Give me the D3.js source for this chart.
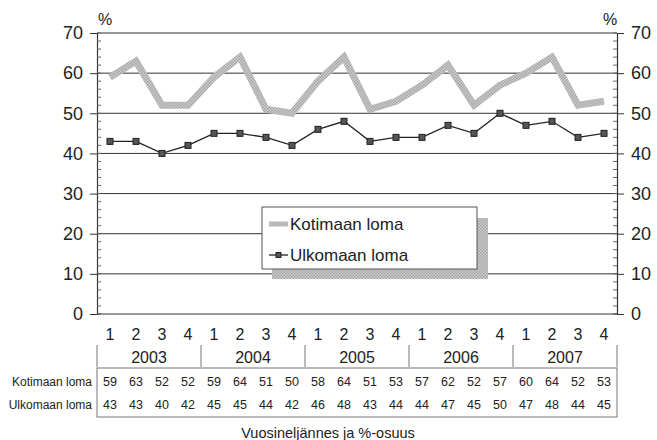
<!DOCTYPE html>
<html>
<head>
<meta charset="utf-8">
<script src="https://cdn.jsdelivr.net/npm/d3@7"></script>
<style>
  body { margin: 0; background: #fff; }
  svg { font-family: "Liberation Sans", Arial, sans-serif; }
</style>
</head>
<body>
<div id="chart"></div>
<script>
// data
var quarters = ["1", "2", "3", "4"];
var years = ["2003", "2004", "2005", "2006", "2007"];
var kotimaan = [59, 63, 52, 52, 59, 64, 51, 50, 58, 64, 51, 53, 57, 62, 52, 57, 60, 64, 52, 53];
var ulkomaan = [43, 43, 40, 42, 45, 45, 44, 42, 46, 48, 43, 44, 44, 47, 45, 50, 47, 48, 44, 45];
var seriesNames = ["Kotimaan loma", "Ulkomaan loma"];
var yTicks = [0, 10, 20, 30, 40, 50, 60, 70];

var width = 657, height = 440;
var plotL = 97, plotR = 617, plotT = 33, plotB = 314;

var svg = d3.select("#chart").append("svg")
    .attr("width", width)
    .attr("height", height);

// grey hatch used for the thick line and the legend shadow
var defs = svg.append("defs");
var pat = defs.append("pattern")
    .attr("id", "hatch")
    .attr("patternUnits", "userSpaceOnUse")
    .attr("width", 3).attr("height", 3);
pat.append("rect").attr("width", 3).attr("height", 3).attr("fill", "#cdcdcd");
pat.append("rect").attr("width", 1.5).attr("height", 1.5).attr("fill", "#a6a6a6");
pat.append("rect").attr("x", 1.5).attr("y", 1.5).attr("width", 1.5).attr("height", 1.5).attr("fill", "#a6a6a6");

var idx = d3.range(kotimaan.length);
var x = d3.scaleBand().domain(idx).range([plotL, plotR]);
var xc = function (i) { return x(i) + x.bandwidth() / 2; };
var y = d3.scaleLinear().domain([0, 70]).range([plotB, plotT]);

// gridlines
svg.append("g").selectAll("line")
    .data(yTicks.slice(1))
    .enter().append("line")
    .attr("x1", plotL).attr("x2", plotR)
    .attr("y1", function (d) { return y(d); })
    .attr("y2", function (d) { return y(d); })
    .attr("stroke", "#333").attr("stroke-width", 1);

// left and right axes, major ticks outside, minor ticks inside
var minor = d3.range(0, 71, 2);
var leftAxis = svg.append("g").attr("transform", "translate(" + plotL + ",0)")
    .call(d3.axisLeft(y).tickValues(yTicks).tickSize(7).tickPadding(7));
var rightAxis = svg.append("g").attr("transform", "translate(" + plotR + ",0)")
    .call(d3.axisRight(y).tickValues(yTicks).tickSize(7).tickPadding(7));
[leftAxis, rightAxis].forEach(function (a) {
    a.select(".domain").attr("stroke", "#333").attr("stroke-width", 1.2);
    a.selectAll(".tick line").attr("stroke", "#333");
    a.selectAll("text").attr("font-size", 18).attr("fill", "#222");
});
leftAxis.selectAll(".minor").data(minor).enter().append("line")
    .attr("x1", 0).attr("x2", 4)
    .attr("y1", function (d) { return y(d); }).attr("y2", function (d) { return y(d); })
    .attr("stroke", "#666");
rightAxis.selectAll(".minor").data(minor).enter().append("line")
    .attr("x1", 0).attr("x2", -4)
    .attr("y1", function (d) { return y(d); }).attr("y2", function (d) { return y(d); })
    .attr("stroke", "#666");

// bottom axis line
svg.append("line")
    .attr("x1", plotL).attr("x2", plotR)
    .attr("y1", plotB).attr("y2", plotB)
    .attr("stroke", "#333").attr("stroke-width", 1.2);

// % labels
svg.append("text").attr("x", 105).attr("y", 25).attr("text-anchor", "middle")
    .attr("font-size", 16).attr("fill", "#222").text("%");
svg.append("text").attr("x", 610).attr("y", 25).attr("text-anchor", "middle")
    .attr("font-size", 16).attr("fill", "#222").text("%");

// lines
var line = d3.line()
    .x(function (d, i) { return xc(i); })
    .y(function (d) { return y(d); });

svg.append("path")
    .datum(kotimaan)
    .attr("d", line)
    .attr("fill", "none")
    .attr("stroke", "url(#hatch)")
    .attr("stroke-width", 7)
    .attr("stroke-linejoin", "miter");

svg.append("path")
    .datum(ulkomaan)
    .attr("d", line)
    .attr("fill", "none")
    .attr("stroke", "#222")
    .attr("stroke-width", 1.3);

svg.append("g").selectAll("rect")
    .data(ulkomaan)
    .enter().append("rect")
    .attr("x", function (d, i) { return xc(i) - 3; })
    .attr("y", function (d) { return y(d) - 3; })
    .attr("width", 6).attr("height", 6)
    .attr("fill", "#555").attr("stroke", "#222").attr("stroke-width", 1);

// legend with shadow
var lg = svg.append("g");
lg.append("rect").attr("x", 272).attr("y", 218).attr("width", 216).attr("height", 61)
    .attr("fill", "url(#hatch)");
lg.append("rect").attr("x", 262).attr("y", 207).attr("width", 215).attr("height", 62)
    .attr("fill", "#fff").attr("stroke", "#555").attr("stroke-width", 1);
lg.append("line").attr("x1", 269).attr("x2", 288).attr("y1", 224).attr("y2", 224)
    .attr("stroke", "url(#hatch)").attr("stroke-width", 5);
lg.append("line").attr("x1", 269).attr("x2", 288).attr("y1", 255).attr("y2", 255)
    .attr("stroke", "#222").attr("stroke-width", 1.3);
lg.append("rect").attr("x", 276).attr("y", 252.5).attr("width", 5).attr("height", 5)
    .attr("fill", "#555").attr("stroke", "#222");
lg.selectAll("text").data(seriesNames).enter().append("text")
    .attr("x", 290)
    .attr("y", function (d, i) { return 230 + i * 31; })
    .attr("font-size", 17).attr("fill", "#222")
    .text(function (d) { return d; });

// quarter labels
svg.append("g").selectAll("text")
    .data(idx)
    .enter().append("text")
    .attr("x", function (i) { return xc(i); })
    .attr("y", 340)
    .attr("text-anchor", "middle")
    .attr("font-size", 16).attr("fill", "#222")
    .text(function (i) { return quarters[i % 4]; });

// year labels and separators
var xYear = d3.scaleBand().domain(years).range([plotL, plotR]);
svg.append("g").selectAll("text")
    .data(years)
    .enter().append("text")
    .attr("x", function (d) { return xYear(d) + xYear.bandwidth() / 2; })
    .attr("y", 363)
    .attr("text-anchor", "middle")
    .attr("font-size", 16).attr("fill", "#222")
    .text(function (d) { return d; });
svg.append("g").selectAll("line")
    .data(years.concat(["end"]))
    .enter().append("line")
    .attr("x1", function (d, i) { return plotL + i * xYear.bandwidth(); })
    .attr("x2", function (d, i) { return plotL + i * xYear.bandwidth(); })
    .attr("y1", 345).attr("y2", 367)
    .attr("stroke", "#777").attr("stroke-width", 1);

// data table
svg.append("rect").attr("x", plotL).attr("y", 368)
    .attr("width", plotR - plotL).attr("height", 49)
    .attr("fill", "none").attr("stroke", "#777").attr("stroke-width", 1);
[kotimaan, ulkomaan].forEach(function (vals, r) {
    var rowY = 386 + r * 23;
    svg.append("text").attr("x", 92).attr("y", rowY)
        .attr("text-anchor", "end").attr("font-size", 12).attr("fill", "#222")
        .text(seriesNames[r]);
    svg.append("g").selectAll("text")
        .data(vals)
        .enter().append("text")
        .attr("x", function (d, i) { return xc(i); })
        .attr("y", rowY)
        .attr("text-anchor", "middle")
        .attr("font-size", 12.5).attr("fill", "#222")
        .text(function (d) { return d; });
});

// axis title
svg.append("text").attr("x", 328).attr("y", 438)
    .attr("text-anchor", "middle").attr("font-size", 14.5).attr("fill", "#222")
    .text("Vuosineljännes ja %-osuus");
</script>
</body>
</html>
